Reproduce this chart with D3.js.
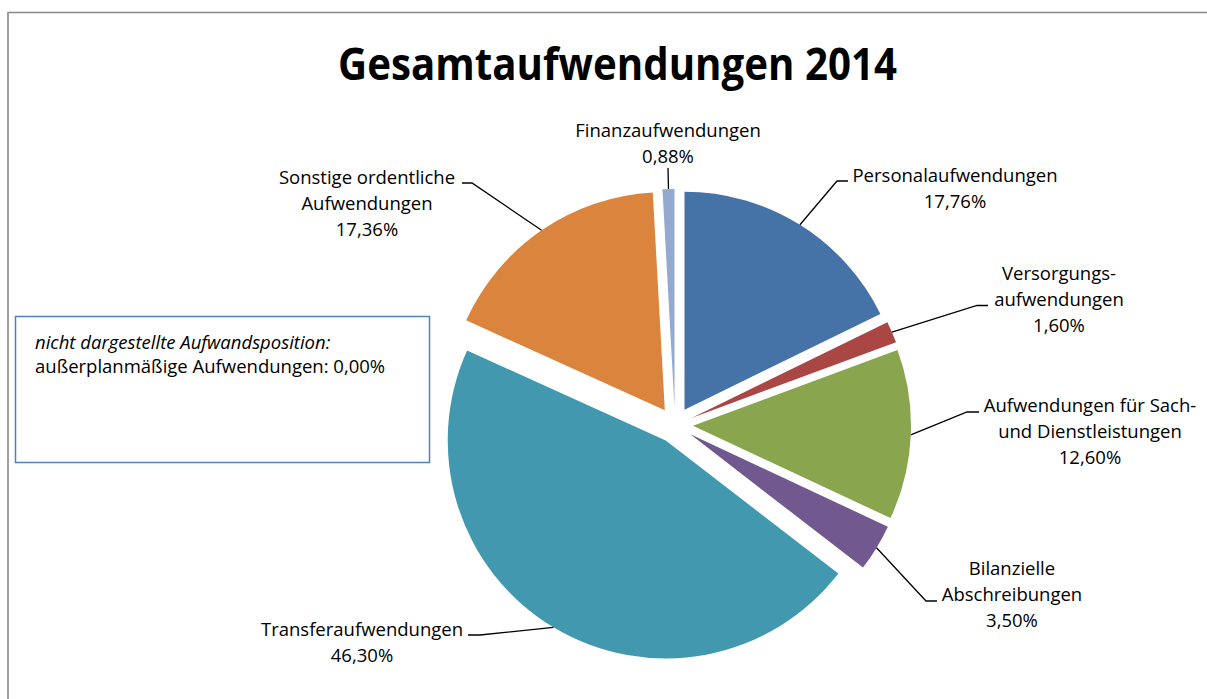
<!DOCTYPE html>
<html>
<head>
<meta charset="utf-8">
<script src="https://cdn.jsdelivr.net/npm/d3@7"></script>
<style>
  html, body { margin: 0; padding: 0; background: #fff; }
  svg { display: block; font-family: "Open Sans", "Noto Sans", sans-serif; }
</style>
</head>
<body>
<div id="chart"></div>
<script>
const TITLE = "Gesamtaufwendungen 2014";

const categories = [
  "Personalaufwendungen",
  "Versorgungsaufwendungen",
  "Aufwendungen für Sach- und Dienstleistungen",
  "Bilanzielle Abschreibungen",
  "Transferaufwendungen",
  "Sonstige ordentliche Aufwendungen",
  "Finanzaufwendungen"
];
const shares = [17.76, 1.60, 12.60, 3.50, 46.30, 17.36, 0.88];
const colors = ["#4572A7", "#AA4643", "#89A54E", "#71588F", "#4198AF", "#DB843D", "#93A9CF"];
// how each category name is broken over lines in the label
const labelLines = [
  ["Personalaufwendungen"],
  ["Versorgungs-", "aufwendungen"],
  ["Aufwendungen für Sach-", "und Dienstleistungen"],
  ["Bilanzielle", "Abschreibungen"],
  ["Transferaufwendungen"],
  ["Sonstige ordentliche", "Aufwendungen"],
  ["Finanzaufwendungen"]
];
const noteTitle = "nicht dargestellte Aufwandsposition:";
const noteText = "außerplanmäßige Aufwendungen: 0,00%";

// label placement: text centre x, first baseline y, elbow of the leader, stub end x
const labelLayout = [
  {x: 955,  y: 182, elbow: [837, 181], stub: 848},
  {x: 1059, y: 280, elbow: [977, 305.5], stub: 988},
  {x: 1090, y: 412, elbow: [967, 412], stub: 979},
  {x: 1012, y: 575, elbow: [926, 601], stub: 937},
  {x: 362,  y: 636, elbow: [480, 635], stub: 468},
  {x: 367,  y: 184, elbow: [472, 183], stub: 462},
  {x: 668,  y: 136.5, elbow: [668, 168], stub: 668}
];

const W = 1207, H = 699;
const cx = 675, cy = 425, R = 218, EXPLODE = 18, LINE = 26;

const de = d3.formatLocale({decimal: ",", thousands: ".", grouping: [3], currency: ["", " €"]});
const pct = v => de.format(".2f")(v) + "%";

const svg = d3.select("#chart").append("svg")
  .attr("width", W).attr("height", H);

// outer chart frame
svg.append("path")
  .attr("d", `M8,${H} V12.5 H${W}`)
  .attr("fill", "none")
  .attr("stroke", "#888")
  .attr("stroke-width", 1.6);

svg.append("text")
  .attr("x", 617.5).attr("y", 80)
  .attr("text-anchor", "middle")
  .attr("font-size", 44)
  .attr("font-weight", "bold")
  .attr("fill", "#000")
  .attr("textLength", 559)
  .attr("lengthAdjust", "spacingAndGlyphs")
  .text(TITLE);

const pie = d3.pie().sort(null).value(d => d)(shares);
const arc = d3.arc().innerRadius(0).outerRadius(R);
const mid = d => (d.startAngle + d.endAngle) / 2;

const g = svg.append("g").attr("transform", `translate(${cx},${cy})`);
g.selectAll("path.slice")
  .data(pie)
  .join("path")
    .attr("class", "slice")
    .attr("d", arc)
    .attr("fill", (d, i) => colors[i])
    .attr("transform", d => `translate(${Math.sin(mid(d)) * EXPLODE},${-Math.cos(mid(d)) * EXPLODE})`)
    .append("title").text((d, i) => categories[i] + ": " + pct(shares[i]));

// leader lines from the slice rim to the label
svg.append("g").selectAll("polyline")
  .data(pie)
  .join("polyline")
    .attr("fill", "none")
    .attr("stroke", "#000")
    .attr("stroke-width", 1.3)
    .attr("points", (d, i) => {
      const a = mid(d), L = labelLayout[i];
      const p0 = [cx + Math.sin(a) * (R + EXPLODE), cy - Math.cos(a) * (R + EXPLODE)];
      return [p0, L.elbow, [L.stub, L.elbow[1]]].map(p => p.join(",")).join(" ");
    });

const labels = svg.append("g")
  .attr("font-size", 18.5)
  .attr("fill", "#000")
  .attr("text-anchor", "middle");
labelLines.forEach((lines, i) => {
  const L = labelLayout[i];
  const t = labels.append("text").attr("x", L.x).attr("y", L.y);
  lines.concat([pct(shares[i])]).forEach((s, k) => {
    t.append("tspan").attr("x", L.x).attr("y", L.y + k * LINE).text(s);
  });
});

// note box for the category left out of the pie
const note = svg.append("g");
note.append("rect")
  .attr("x", 15.5).attr("y", 316.5)
  .attr("width", 414).attr("height", 146)
  .attr("fill", "#fff")
  .attr("stroke", "#4F81BD")
  .attr("stroke-width", 1.5);
note.append("text")
  .attr("x", 35).attr("y", 349)
  .attr("font-size", 18.5).attr("font-style", "italic")
  .text(noteTitle);
note.append("text")
  .attr("x", 35).attr("y", 373)
  .attr("font-size", 18.5)
  .text(noteText);
</script>
</body>
</html>
